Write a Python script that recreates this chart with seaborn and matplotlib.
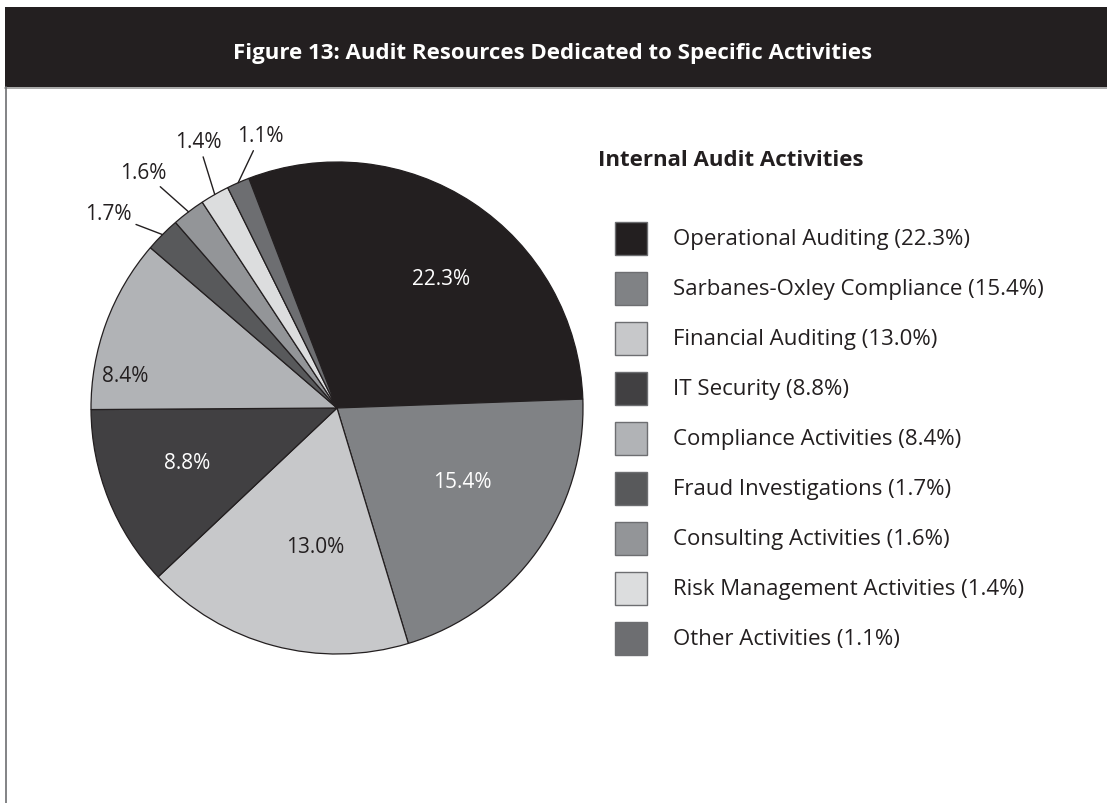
import numpy as np
import seaborn as sns
import matplotlib.pyplot as plt
from matplotlib.patches import Rectangle
from matplotlib.lines import Line2D
from matplotlib import font_manager

# data
activities = ["Operational Auditing", "Sarbanes-Oxley Compliance", "Financial Auditing",
              "IT Security", "Compliance Activities", "Fraud Investigations",
              "Consulting Activities", "Risk Management Activities", "Other Activities"]
shares = [22.3, 15.4, 13.0, 8.8, 8.4, 1.7, 1.6, 1.4, 1.1]
grays = ["#231f20", "#808285", "#c7c8ca", "#414042", "#b1b3b6",
         "#58595b", "#939598", "#dcddde", "#6d6e71"]

title = "Figure 13: Audit Resources Dedicated to Specific Activities"
legend_title = "Internal Audit Activities"

W, H = 1107, 804
INK = "#231f20"

sns.set_style("white")
plt.rcParams['font.family'] = ['Open Sans', 'DejaVu Sans']


def fx(px):
    return px / W


def fy(py):
    return 1 - py / H


fig = plt.figure(figsize=(W / 100, H / 100), dpi=100)

# title band and frame
fig.patches.append(Rectangle((fx(5), fy(88)), fx(W), 80 / H, transform=fig.transFigure,
                             facecolor=INK, edgecolor='none'))
fig.lines.append(Line2D([fx(5), 1], [fy(88.5), fy(88.5)], transform=fig.transFigure,
                        color="#9a9a9a", lw=1.2))
fig.lines.append(Line2D([fx(6), fx(6)], [fy(88), 0], transform=fig.transFigure,
                        color="#6d6e71", lw=1.2))

try:
    font_manager.findfont(font_manager.FontProperties(family='Liberation Sans Narrow'),
                          fallback_to_default=False)
    title_font, title_size = ['Liberation Sans Narrow', 'Open Sans'], 20
except ValueError:
    title_font, title_size = ['Open Sans', 'DejaVu Sans'], 16
fig.text(fx(553), fy(53), title, color="white", fontsize=title_size, fontweight='bold',
         family=title_font, ha='center', va='center')

# pie
cx, cy, r = 337, 409, 246
ax = fig.add_axes([fx(cx - r), fy(cy + r), 2 * r / W, 2 * r / H])
wedges, _ = ax.pie(shares, colors=grays, startangle=111, counterclock=False,
                   wedgeprops=dict(edgecolor=INK, linewidth=0.9))
ax.set_xlim(-1, 1)
ax.set_ylim(-1, 1)
ax.axis('off')


def mid_angle(w):
    return np.deg2rad((w.theta1 + w.theta2) / 2)


# inner labels: (radial fraction, angle shift in degrees, text colour)
inner_style = [(0.675, -5.4, 'white'), (0.59, 5.1, 'white'), (0.57, 5.9, INK),
               (0.65, -1.9, 'white'), (0.87, 11.5, INK)]
for w, v, (d, shift, col) in zip(wedges, shares, inner_style):
    a = mid_angle(w) + np.deg2rad(shift)
    ax.text(d * np.cos(a), d * np.sin(a), f"{v:.1f}%", color=col, fontsize=15,
            ha='center', va='center')

# outer labels with leader lines
outer_style = [(1.22, 4.5), (1.24, 2.2), (1.22, -2.3), (1.15, -8.0)]
for w, v, (d, shift) in zip(wedges[5:], shares[5:], outer_style):
    a = mid_angle(w)
    b = a + np.deg2rad(shift)
    ax.annotate(f"{v:.1f}%", xy=(np.cos(a), np.sin(a)), xytext=(d * np.cos(b), d * np.sin(b)),
                color=INK, fontsize=15, ha='center', va='center', annotation_clip=False,
                arrowprops=dict(arrowstyle='-', color=INK, lw=1.0, shrinkA=1, shrinkB=0))

# legend
fig.text(fx(598), fy(160), legend_title, color=INK, fontsize=16, fontweight='bold',
         ha='left', va='center')
for i, (name, v, col) in enumerate(zip(activities, shares, grays)):
    top = 223 + 50 * i
    fig.patches.append(Rectangle((fx(615), fy(top + 33)), 32 / W, 33 / H,
                                 transform=fig.transFigure, facecolor=col,
                                 edgecolor="#6d6e71", lw=1.0))
    fig.text(fx(673), fy(top + 16.5), f"{name} ({v:.1f}%)", color=INK, fontsize=16,
             ha='left', va='center')

fig.savefig("out.png", dpi=100, facecolor='white')
